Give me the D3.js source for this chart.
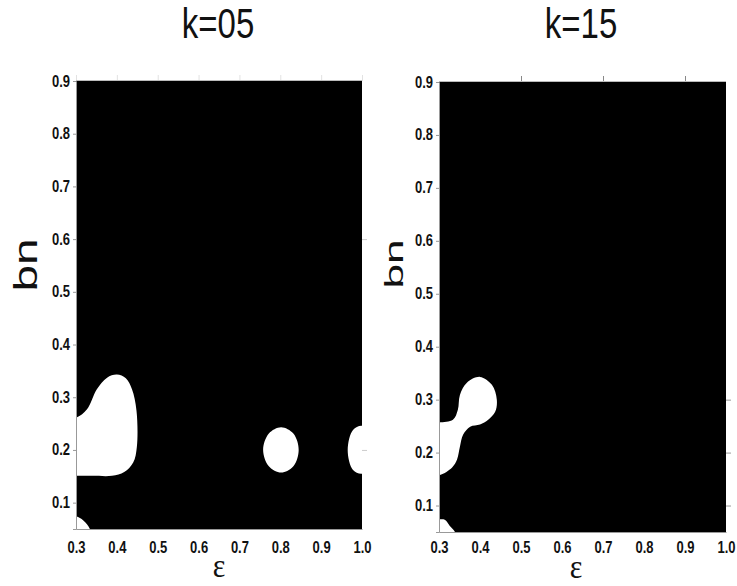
<!DOCTYPE html>
<html>
<head>
<meta charset="utf-8">
<script src="https://cdn.jsdelivr.net/npm/d3@7"></script>
<style>
  body { margin: 0; background: #fff; }
  svg { display: block; }
</style>
</head>
<body>
<div id="chart"></div>
<script>
// tick values and domains
var xTicks = [0.3, 0.4, 0.5, 0.6, 0.7, 0.8, 0.9, 1.0];
var yTicks = [0.1, 0.2, 0.3, 0.4, 0.5, 0.6, 0.7, 0.8, 0.9];
var xDomain = [0.3, 1.0];
var yDomain = [0.05, 0.9];
var titles = ["k=05", "k=15"];

// white regions, outlines as [eps, bn]
var k05Lobe = [[0.27, 0.261], [0.3, 0.261], [0.327, 0.277], [0.351, 0.315], [0.376, 0.337],
  [0.400, 0.343], [0.422, 0.336], [0.437, 0.315], [0.448, 0.275], [0.449, 0.206],
  [0.440, 0.176], [0.418, 0.158], [0.388, 0.151], [0.34, 0.151], [0.3, 0.151], [0.27, 0.151]];
var k05Dot = [[0.802, 0.243], [0.832, 0.231], [0.845, 0.2], [0.832, 0.169],
  [0.802, 0.157], [0.772, 0.169], [0.758, 0.2], [0.772, 0.231]];
var k05Edge = [[1.0, 0.246], [0.978, 0.238], [0.965, 0.2], [0.978, 0.162],
  [1.0, 0.155], [1.03, 0.17], [1.03, 0.23]];
var k05Corner = [[0.27, 0.074], [0.3, 0.074], [0.318, 0.066], [0.334, 0.05],
  [0.34, 0.03], [0.27, 0.03]];

var k15Lobe = [[0.27, 0.257], [0.3, 0.257], [0.334, 0.262], [0.346, 0.281], [0.351, 0.309],
  [0.368, 0.332], [0.4, 0.343], [0.429, 0.328], [0.441, 0.3], [0.437, 0.277],
  [0.42, 0.262], [0.4, 0.253], [0.376, 0.249], [0.359, 0.234], [0.351, 0.211],
  [0.344, 0.187], [0.332, 0.172], [0.3, 0.157], [0.27, 0.157]];
var k15Corner = [[0.27, 0.074], [0.3, 0.074], [0.314, 0.073], [0.326, 0.062],
  [0.339, 0.05], [0.345, 0.03], [0.27, 0.03]];

var width = 737, height = 586;

var svg = d3.select("#chart").append("svg")
    .attr("width", width)
    .attr("height", height);

var panels = [
  { title: titles[0], blobs: [k05Lobe, k05Dot, k05Edge, k05Corner],
    left: 76, right: 362, top: 81, bottom: 529,
    titleX: 218, bnX: 37, bnY: 265, bnSize: 33, bnStretch: 1.45, epsX: 219, epsY: 577,
    topTicks: xTicks, topColor: "#e2e2e2", rightTicks: [0.2, 0.6], rightColor: "#ccc" },
  { title: titles[1], blobs: [k15Lobe, k15Corner],
    left: 439, right: 726, top: 82, bottom: 532,
    titleX: 581, bnX: 403, bnY: 264, bnSize: 26, bnStretch: 1.7, epsX: 576, epsY: 578,
    topTicks: [0.5, 0.7, 0.9], topColor: "#888", rightTicks: [0.1, 0.2, 0.3], rightColor: "#999" }
];

panels.forEach(function(p, i) {
  var x = d3.scaleLinear().domain(xDomain).range([p.left, p.right]);
  var y = d3.scaleLinear().domain(yDomain).range([p.bottom, p.top]);

  var g = svg.append("g");

  g.append("clipPath")
      .attr("id", "clip" + i)
    .append("rect")
      .attr("x", p.left)
      .attr("y", p.top)
      .attr("width", p.right - p.left)
      .attr("height", p.bottom - p.top);

  // black background of the region map
  g.append("rect")
      .attr("x", x(xDomain[0]))
      .attr("y", y(yDomain[1]))
      .attr("width", x(xDomain[1]) - x(xDomain[0]))
      .attr("height", y(yDomain[0]) - y(yDomain[1]))
      .attr("fill", "#000");

  var line = d3.line()
      .x(function(d) { return x(d[0]); })
      .y(function(d) { return y(d[1]); })
      .curve(d3.curveCatmullRomClosed.alpha(0.5));

  g.append("g")
      .attr("clip-path", "url(#clip" + i + ")")
    .selectAll("path")
    .data(p.blobs)
    .enter().append("path")
      .attr("d", line)
      .attr("fill", "#fff");

  // axes
  var axLeft = g.append("g")
      .attr("transform", "translate(" + p.left + ",0)")
      .call(d3.axisLeft(y).tickValues(yTicks).tickSize(3).tickPadding(3).tickFormat(d3.format(".1f")));
  axLeft.selectAll("text")
      .attr("dy", null)
      .attr("x", null)
      .attr("transform", "translate(-6,5) scale(1,1.3)");

  var axBottom = g.append("g")
      .attr("transform", "translate(0," + p.bottom + ")")
      .call(d3.axisBottom(x).tickValues(xTicks).tickSize(0).tickFormat(d3.format(".1f")));
  axBottom.selectAll("text")
      .attr("dy", null)
      .attr("y", null)
      .attr("transform", "translate(0," + (553 - p.bottom) + ") scale(1,1.3)");

  g.append("g")
      .attr("transform", "translate(0," + p.top + ")")
      .call(d3.axisTop(x).tickValues(p.topTicks).tickSize(6).tickFormat(""))
      .call(function(a) { a.select(".domain").remove(); })
      .selectAll("line").attr("stroke", p.topColor);

  g.append("g")
      .attr("transform", "translate(" + p.right + ",0)")
      .call(d3.axisRight(y).tickValues(p.rightTicks).tickSize(5).tickFormat(""))
      .call(function(a) { a.select(".domain").remove(); })
      .selectAll("line").attr("stroke", p.rightColor);

  [axLeft, axBottom].forEach(function(a) {
    a.select(".domain").attr("stroke", "#999");
    a.selectAll(".tick line").attr("stroke", "#999");
    a.selectAll("text")
        .attr("fill", "#111")
        .style("font-family", "'Liberation Sans', Arial, sans-serif")
        .style("font-weight", "bold")
        .style("font-size", "13px");
  });

  // top edge line
  g.append("line")
      .attr("x1", p.left).attr("x2", p.right)
      .attr("y1", p.top - 0.5).attr("y2", p.top - 0.5)
      .attr("stroke", "#bbb");

  // title
  g.append("text")
      .attr("transform", "translate(" + p.titleX + ",38) scale(1,1.3)")
      .attr("text-anchor", "middle")
      .style("font-family", "'Liberation Sans', Arial, sans-serif")
      .style("font-size", "33px")
      .attr("fill", "#111")
      .text(p.title);

  // y label
  g.append("text")
      .attr("transform", "translate(" + p.bnX + "," + p.bnY + ") rotate(-90) scale(" + p.bnStretch + ",1)")
      .attr("text-anchor", "middle")
      .style("font-family", "'Liberation Sans', Arial, sans-serif")
      .style("font-size", p.bnSize + "px")
      .attr("fill", "#111")
      .text("bn");

  // x label
  g.append("text")
      .attr("transform", "translate(" + p.epsX + "," + p.epsY + ") scale(1,1.15)")
      .attr("text-anchor", "middle")
      .style("font-family", "'Liberation Serif', 'Times New Roman', serif")
      .style("font-size", "30px")
      .attr("fill", "#111")
      .text("ε");
});
</script>
</body>
</html>
